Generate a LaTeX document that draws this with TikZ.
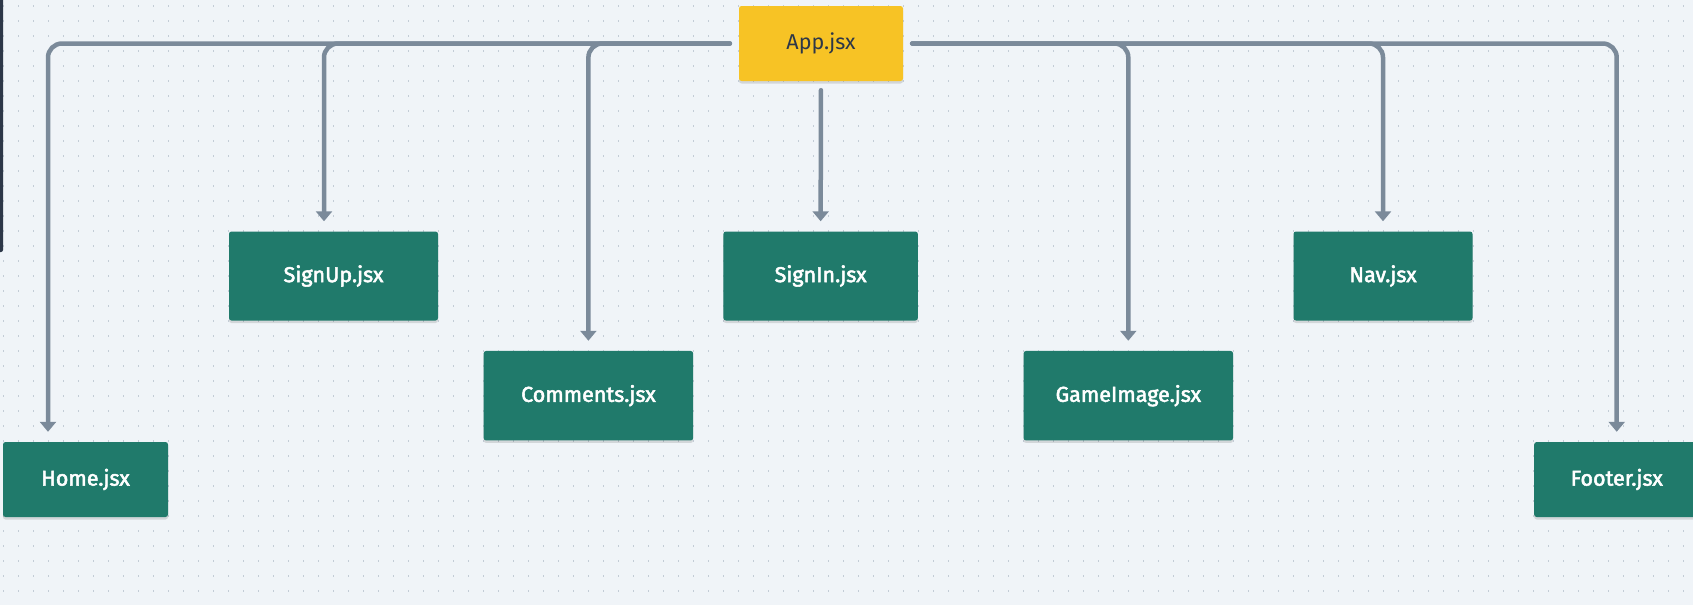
\documentclass[tikz,border=0pt]{standalone}
\usepackage{fontspec}
\setmainfont{Fira Sans}
\newfontfamily\labelfont{Fira Sans}[FakeBold=2.4]
\usetikzlibrary{arrows.meta,shadows}
\definecolor{bgc}{HTML}{F0F4F8}
\definecolor{dotc}{HTML}{C3CCD6}
\definecolor{linec}{HTML}{7B8A9A}
\definecolor{greenc}{HTML}{207A6B}
\definecolor{yellowc}{HTML}{F7C325}
\definecolor{darkc}{HTML}{2D3748}
\tikzset{
  comp/.style={fill=greenc, text=white, rounded corners=2.5pt, inner sep=0pt,
    font=\labelfont\fontsize{21.5}{24}\selectfont,
    drop shadow={shadow xshift=0pt, shadow yshift=-2.5pt, opacity=0.12, fill=black}},
  rootbox/.style={fill=yellowc, text=darkc, rounded corners=2.5pt, inner sep=0pt,
    font=\fontsize{21.5}{24}\selectfont,
    drop shadow={shadow xshift=0pt, shadow yshift=-2.5pt, opacity=0.12, fill=black}},
  conn/.style={draw=linec, line width=4.5pt, line cap=round, rounded corners=14pt,
    shorten <=9pt, shorten >=10pt, -{Triangle[width=16pt,length=10pt]}}
}
\begin{document}
\begin{tikzpicture}[x=1pt,y=-1pt]
\fill[bgc] (0,0) rectangle (1693,605);
\useasboundingbox (0,0) rectangle (1693,605);
\foreach \i in {0,...,112}{
  \foreach \j in {0,...,39}{
    \fill[dotc] ({3.3+15*\i-0.8},{5.7+15*\j-0.8}) rectangle +(1.6,1.6);
  }
}
\fill[darkc, rounded corners=2pt] (-4,-4) rectangle (3,252);
% nodes
\node[rootbox, minimum width=164pt, minimum height=75pt] (app) at (821,43.5) {App.jsx};
\node[comp, minimum width=165pt, minimum height=75pt] (home) at (85.5,479.5) {Home.jsx};
\node[comp, minimum width=209pt, minimum height=89pt] (signup) at (333.5,276) {SignUp.jsx};
\node[comp, minimum width=209.5pt, minimum height=89.5pt] (comments) at (588.4,395.7) {Comments.jsx};
\node[comp, minimum width=194.4pt, minimum height=89pt] (signin) at (820.6,276) {SignIn.jsx};
\node[comp, minimum width=209.5pt, minimum height=89.5pt] (gameimage) at (1128.3,395.7) {GameImage.jsx};
\node[comp, minimum width=179pt, minimum height=89pt] (nav) at (1383,276) {Nav.jsx};
\node[comp, minimum width=165pt, minimum height=75pt] (footer) at (1616.7,479.5) {Footer.jsx};
% connectors
\draw[conn] (app.west) -| ([xshift=-37.5pt]home.north);
\draw[conn] (app.west) -| ([xshift=-9.5pt]signup.north);
\draw[conn] (app.west) -| (comments.north);
\draw[conn] (app.south) -- (signin.north);
\draw[conn] (app.east) -| (gameimage.north);
\draw[conn] (app.east) -| (nav.north);
\draw[conn] (app.east) -| (footer.north);
\end{tikzpicture}
\end{document}
